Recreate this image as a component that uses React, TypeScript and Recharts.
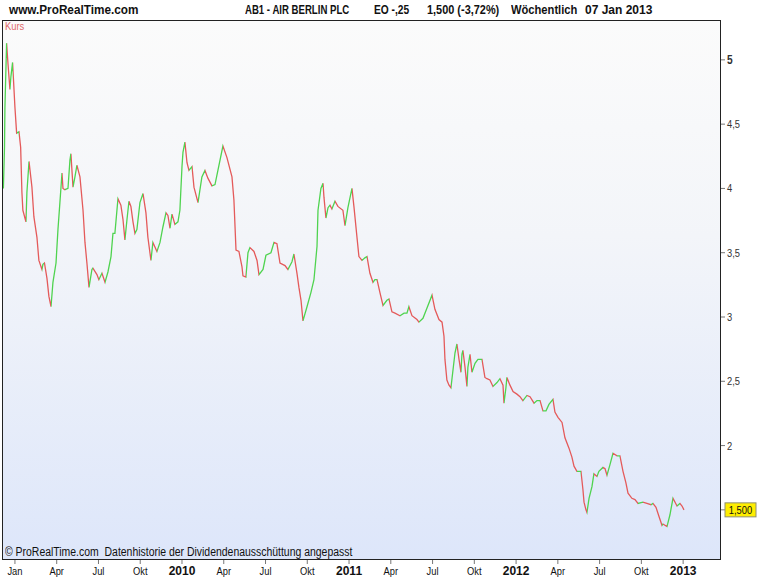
import React from 'react';
import { LineChart, Line, XAxis, YAxis } from 'recharts';

// weekly closes, position in months since Jan 2009
const weekPos = [
  -0.83, -0.75, -0.72, -0.6, -0.5, -0.36, -0.29, -0.17, 0, 0.12, 0.29, 0.41, 0.5, 0.57, 0.79, 0.86, 1.01, 1.22, 1.36, 1.58,
  1.72, 1.94, 2.01, 2.12, 2.3, 2.44, 2.59, 2.73, 2.95, 3.09, 3.23, 3.38, 3.45, 3.59, 3.81, 3.95, 4.02, 4.17, 4.31, 4.45,
  4.67, 4.89, 5.03, 5.17, 5.32, 5.53, 5.6, 5.89, 6.03, 6.25, 6.47, 6.68, 6.9, 7.04, 7.18, 7.4, 7.61, 7.76, 7.9, 8.05,
  8.19, 8.33, 8.48, 8.62, 8.76, 8.98, 9.2, 9.41, 9.55, 9.77, 9.91, 10.2, 10.42, 10.63, 10.85, 10.99, 11.14, 11.28, 11.49, 11.71,
  11.85, 12.0, 12.07, 12.21, 12.36, 12.5, 12.72, 12.86, 13.15, 13.43, 13.65, 13.86, 14.15, 14.37, 14.58, 14.94, 15.23, 15.59, 15.73, 15.88,
  16.09, 16.31, 16.38, 16.59, 16.74, 16.88, 17.17, 17.39, 17.53, 17.82, 18.03, 18.39, 18.61, 18.82, 19.04, 19.4, 19.61, 19.9, 20.04, 20.26,
  20.4, 20.55, 20.69, 20.98, 21.26, 21.48, 21.7, 21.77, 21.98, 22.13, 22.2, 22.34, 22.49, 22.63, 22.77, 22.99, 23.2, 23.56, 23.71, 23.92,
  24.21, 24.35, 24.57, 24.71, 24.93, 25.14, 25.29, 25.5, 25.72, 25.86, 26.01, 26.22, 26.44, 26.72, 26.87, 27.08, 27.3, 27.66, 27.95, 28.16,
  28.3, 28.52, 28.88, 29.02, 29.31, 29.6, 29.96, 30.17, 30.46, 30.68, 30.82, 30.89, 31.03, 31.18, 31.32, 31.47, 31.61, 31.75, 31.9, 32.04,
  32.11, 32.18, 32.33, 32.47, 32.54, 32.69, 32.83, 33.05, 33.26, 33.55, 33.76, 33.91, 34.12, 34.34, 34.63, 34.84, 35.06, 35.13, 35.27, 35.34,
  35.56, 35.78, 36.06, 36.28, 36.49, 36.78, 37.0, 37.29, 37.5, 37.72, 37.93, 38.15, 38.36, 38.65, 38.79, 39.01, 39.3, 39.51, 39.8, 40.01,
  40.16, 40.37, 40.66, 40.8, 40.88, 41.02, 41.09, 41.24, 41.45, 41.59, 41.81, 41.95, 42.24, 42.39, 42.53, 42.74, 42.96, 43.25, 43.46, 43.68,
  43.89, 44.04, 44.32, 44.54, 44.76, 45.11, 45.4, 45.69, 45.83, 46.05, 46.26, 46.48, 46.55, 46.84, 47.05, 47.27, 47.56, 47.77, 47.92, 48.06,
];

const kurs = [
  4.0, 4.32, 4.63, 5.13, 4.97, 4.77, 4.87, 4.98, 4.63, 4.43, 4.44, 4.32, 3.97, 3.83, 3.74, 3.97, 4.21, 4.01, 3.78, 3.62,
  3.44, 3.37, 3.41, 3.42, 3.3, 3.16, 3.08, 3.27, 3.42, 3.68, 3.89, 4.12, 4.0, 3.99, 4.0, 4.22, 4.27, 4.01, 4.09, 4.18,
  4.09, 3.83, 3.58, 3.42, 3.23, 3.37, 3.38, 3.33, 3.29, 3.34, 3.27, 3.35, 3.47, 3.65, 3.65, 3.92, 3.87, 3.76, 3.6, 3.76,
  3.9, 3.86, 3.74, 3.65, 3.68, 3.89, 3.96, 3.81, 3.62, 3.44, 3.58, 3.51, 3.58, 3.7, 3.81, 3.79, 3.69, 3.8, 3.72, 3.74,
  3.83, 4.17, 4.28, 4.36, 4.2, 4.14, 4.17, 4.01, 3.89, 4.09, 4.14, 4.08, 4.02, 4.03, 4.14, 4.33, 4.24, 4.09, 3.91, 3.52,
  3.51, 3.39, 3.32, 3.31, 3.5, 3.54, 3.51, 3.44, 3.33, 3.37, 3.48, 3.5, 3.58, 3.57, 3.42, 3.4, 3.37, 3.43, 3.49, 3.34,
  3.23, 3.13, 2.97, 3.08, 3.19, 3.29, 3.55, 3.83, 4.0, 4.04, 3.93, 3.77, 3.85, 3.87, 3.84, 3.9, 3.86, 3.83, 3.71, 3.85,
  4.0, 3.86, 3.62, 3.47, 3.44, 3.46, 3.47, 3.34, 3.27, 3.29, 3.29, 3.19, 3.09, 3.13, 3.14, 3.04, 3.03, 3.01, 3.03, 3.03,
  3.08, 3.01, 2.98, 2.96, 2.99, 3.07, 3.17, 3.06, 2.98, 2.96, 2.85, 2.67, 2.51, 2.47, 2.45, 2.59, 2.72, 2.79, 2.67, 2.57,
  2.71, 2.74, 2.61, 2.46, 2.61, 2.71, 2.57, 2.64, 2.67, 2.67, 2.53, 2.52, 2.51, 2.46, 2.49, 2.52, 2.47, 2.33, 2.45, 2.53,
  2.47, 2.42, 2.4, 2.38, 2.35, 2.39, 2.38, 2.33, 2.35, 2.35, 2.27, 2.27, 2.32, 2.36, 2.26, 2.22, 2.18, 2.06, 1.98, 1.91,
  1.84, 1.8, 1.8, 1.66, 1.56, 1.5, 1.48, 1.59, 1.68, 1.78, 1.76, 1.8, 1.83, 1.82, 1.77, 1.85, 1.94, 1.92, 1.92, 1.8,
  1.71, 1.63, 1.59, 1.58, 1.55, 1.56, 1.55, 1.54, 1.55, 1.52, 1.45, 1.38, 1.39, 1.37, 1.46, 1.59, 1.53, 1.55, 1.53, 1.5,
];

const tickMonths = [0, 3, 6, 9, 12, 15, 18, 21, 24, 27, 30, 33, 36, 39, 42, 45, 48];
const tickLabels = ['Jan', 'Apr', 'Jul', 'Okt', '2010', 'Apr', 'Jul', 'Okt', '2011', 'Apr', 'Jul', 'Okt', '2012', 'Apr', 'Jul', 'Okt', '2013'];
const priceTicks = [1.5, 2, 2.5, 3, 3.5, 4, 4.5, 5];
const lastPrice = '1,500';

const UP = '#4fd34f';
const DOWN = '#e45a5a';
const font = "'Liberation Sans', Arial, sans-serif";

const data = weekPos.map((m, i) => ({ m, kurs: kurs[i] }));

// hard-stop gradient: green on rising weeks, red on falling
const first = weekPos[0];
const span = weekPos[weekPos.length - 1] - first;
const stops: { off: number; color: string }[] = [];
for (let i = 0; i < kurs.length - 1; i++) {
  const c = kurs[i + 1] >= kurs[i] ? UP : DOWN;
  stops.push({ off: (weekPos[i] - first) / span, color: c });
  stops.push({ off: (weekPos[i + 1] - first) / span, color: c });
}

const XTick = (props: any) => {
  const { x, y, payload } = props;
  const idx = tickMonths.indexOf(payload.value);
  const label = tickLabels[idx] ?? '';
  const isYear = /^\d{4}$/.test(label);
  return (
    <text
      transform={`translate(${x},${y + 9}) scale(${isYear ? 1 : 0.85},1)`}
      textAnchor="middle"
      fontFamily={font}
      fontSize={isYear ? 12 : 11}
      fontWeight={isYear ? 'bold' : 'normal'}
      fill="#111"
    >
      {label}
    </text>
  );
};

const YTick = (props: any) => {
  const { x, y, payload } = props;
  if (payload.value === 1.5) {
    return (
      <g>
        <rect x={x - 2} y={y - 7} width={31} height={14} fill="#ffee00" stroke="#8f8f70" />
        <text transform={`translate(${x + 13.5},${y + 4}) scale(0.85,1)`} textAnchor="middle" fontFamily={font} fontSize={11} fill="#111">
          {lastPrice}
        </text>
      </g>
    );
  }
  const bold = payload.value === 5;
  return (
    <text
      transform={`translate(${x},${y + 4}) scale(0.85,1)`}
      fontFamily={font}
      fontSize={bold ? 12 : 11}
      fontWeight={bold ? 'bold' : 'normal'}
      fill="#333"
    >
      {String(payload.value).replace('.', ',')}
    </text>
  );
};

const titleStyle = (left: number, sx: number): React.CSSProperties => ({
  position: 'absolute', left, top: 3, fontFamily: font, fontWeight: 'bold', fontSize: 12, color: '#111',
  whiteSpace: 'pre', transform: `scaleX(${sx})`, transformOrigin: 'left center',
});

export default function App() {
  return (
    <div style={{ position: 'absolute', left: 0, top: 0, width: 770, height: 578, background: '#fff', overflow: 'hidden' }}>
      <div
        style={{
          position: 'absolute', left: 2, top: 20, width: 719, height: 540,
          background: 'linear-gradient(to bottom, #fbfbfb 0%, #f3f5f9 40%, #dde6fa 100%)',
        }}
      />
      <div style={titleStyle(9, 0.98)}>www.ProRealTime.com</div>
      <div style={titleStyle(245, 0.8)}>AB1 - AIR BERLIN PLC</div>
      <div style={titleStyle(374, 0.85)}>EO -,25</div>
      <div style={titleStyle(427, 0.91)}>1,500 (-3,72%)</div>
      <div style={titleStyle(511, 0.93)}>Wöchentlich</div>
      <div style={titleStyle(585, 1)}>07 Jan 2013</div>
      <div style={{ position: 'absolute', left: 5, top: 20, fontFamily: font, fontSize: 11, color: '#e06a6a', transform: 'scaleX(0.85)', transformOrigin: 'left center' }}>
        Kurs
      </div>
      <div
        style={{
          position: 'absolute', left: 5, top: 545, fontFamily: font, fontSize: 12, color: '#111', whiteSpace: 'pre',
          transform: 'scaleX(0.87)', transformOrigin: 'left center',
        }}
      >
        © ProRealTime.com  Datenhistorie der Dividendenausschüttung angepasst
      </div>
      <div style={{ position: 'absolute', left: 0, top: 0 }}>
        <LineChart width={770} height={578} data={data} margin={{ top: 20, right: 0, bottom: 0, left: 2 }}>
          <defs>
            <linearGradient id="kursStroke" x1="0" y1="0" x2="1" y2="0">
              {stops.map((s, i) => (
                <stop key={i} offset={s.off} stopColor={s.color} />
              ))}
            </linearGradient>
          </defs>
          <XAxis
            dataKey="m"
            type="number"
            domain={[-0.93, 50.72]}
            ticks={tickMonths}
            interval={0}
            height={18}
            tick={<XTick />}
            tickSize={4}
            tickLine={{ stroke: '#777' }}
            axisLine={false}
            allowDataOverflow
          />
          <YAxis
            orientation="right"
            type="number"
            domain={[1.11, 5.31]}
            ticks={priceTicks}
            interval={0}
            width={49}
            tick={<YTick />}
            tickSize={4}
            tickLine={{ stroke: '#777' }}
            axisLine={false}
            allowDataOverflow
          />
          <Line
            type="linear"
            dataKey="kurs"
            stroke="url(#kursStroke)"
            strokeWidth={1.3}
            dot={false}
            isAnimationActive={false}
          />
        </LineChart>
      </div>
      <div
        style={{
          position: 'absolute', left: 2, top: 20, width: 719, height: 540,
          border: '1px solid #222', boxSizing: 'border-box', pointerEvents: 'none',
        }}
      />
    </div>
  );
}
